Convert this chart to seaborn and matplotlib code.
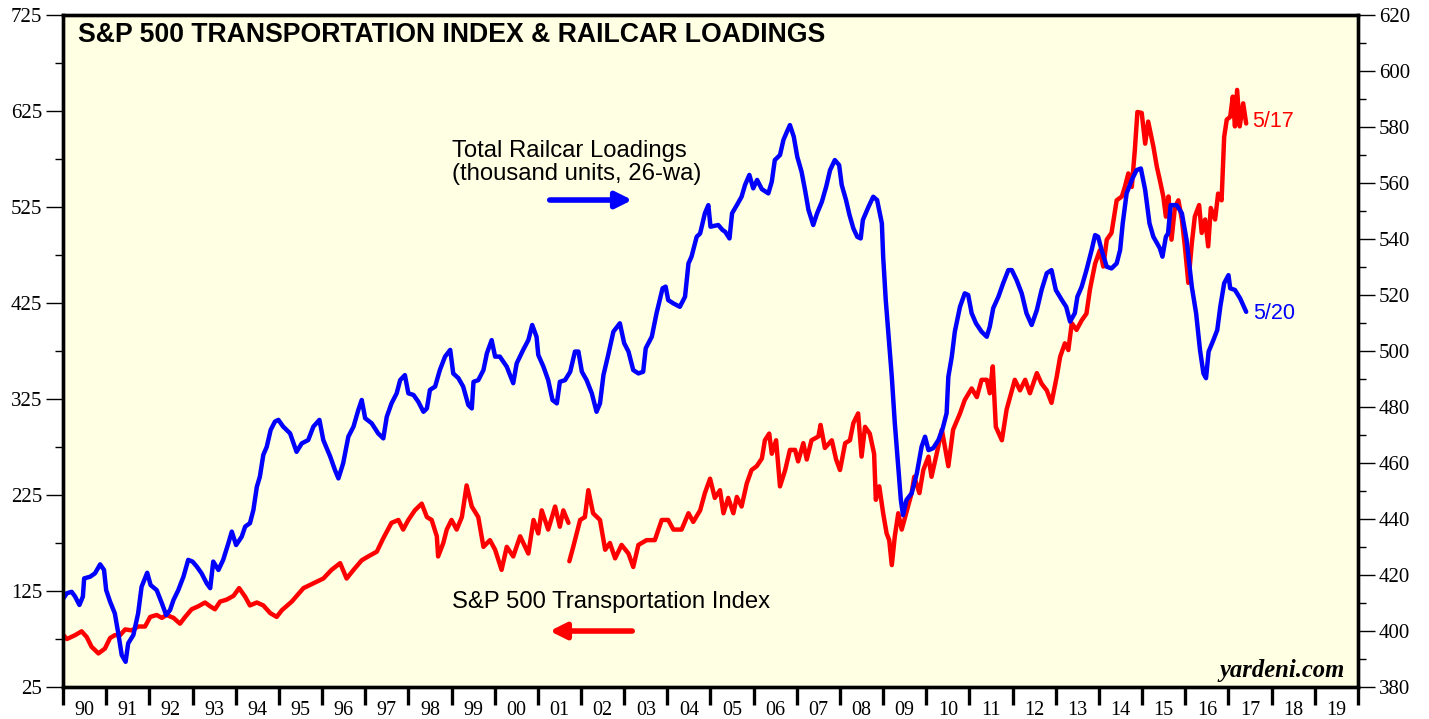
import matplotlib
matplotlib.use("Agg")
import numpy as np
import pandas as pd
import matplotlib.pyplot as plt
import seaborn as sns

# S&P 500 Transportation Index (left axis), two pieces (break in 2001)
trans_year_a = [1990.01, 1990.09, 1990.28, 1990.43, 1990.55, 1990.66, 1990.82, 1990.97, 1991.09, 1991.20,
                1991.32, 1991.44, 1991.59, 1991.74, 1991.90, 1992.02, 1992.17, 1992.29, 1992.40, 1992.56,
                1992.71, 1992.83, 1992.98, 1993.13, 1993.29, 1993.41, 1993.52, 1993.64, 1993.79, 1993.95,
                1994.08, 1994.22, 1994.33, 1994.49, 1994.64, 1994.80, 1994.95, 1995.07, 1995.30, 1995.57,
                1995.80, 1996.03, 1996.22, 1996.42, 1996.57, 1996.73, 1996.92, 1997.07, 1997.27, 1997.42,
                1997.61, 1997.77, 1997.88, 1998.00, 1998.15, 1998.31, 1998.43, 1998.54, 1998.66, 1998.69,
                1998.81, 1998.89, 1999.00, 1999.12, 1999.24, 1999.35, 1999.47, 1999.62, 1999.74, 1999.89,
                2000.01, 2000.16, 2000.28, 2000.43, 2000.59, 2000.78, 2000.90, 2001.01, 2001.09, 2001.24,
                2001.40, 2001.51, 2001.59, 2001.71]
trans_val_a = [79, 75, 79, 83, 77, 67, 60, 65, 76, 79,
               79, 85, 84, 88, 88, 98, 100, 97, 100, 97,
               91, 98, 106, 109, 113, 109, 106, 114, 116, 120,
               128, 119, 110, 113, 110, 102, 98, 105, 114, 128,
               133, 138, 147, 154, 138, 147, 157, 161, 166, 180,
               196, 199, 189, 199, 209, 216, 202, 199, 182, 161,
               175, 189, 199, 189, 202, 235, 213, 202, 171, 178,
               168, 147, 171, 161, 182, 164, 199, 185, 209, 189,
               213, 192, 209, 196]

trans_year_b = [2001.73, 2001.82, 2001.98, 2002.09, 2002.17, 2002.28, 2002.44, 2002.56, 2002.67, 2002.79,
                2002.94, 2003.10, 2003.21, 2003.33, 2003.52, 2003.71, 2003.87, 2004.02, 2004.14, 2004.33,
                2004.49, 2004.60, 2004.76, 2004.87, 2004.99, 2005.10, 2005.22, 2005.30, 2005.41, 2005.53,
                2005.61, 2005.72, 2005.84, 2005.95, 2006.07, 2006.19, 2006.26, 2006.36, 2006.42, 2006.52,
                2006.61, 2006.73, 2006.84, 2006.96, 2007.03, 2007.15, 2007.23, 2007.34, 2007.50, 2007.55,
                2007.65, 2007.81, 2007.91, 2008.00, 2008.12, 2008.23, 2008.31, 2008.42, 2008.50, 2008.58,
                2008.69, 2008.79, 2008.83, 2008.91, 2009.00, 2009.08, 2009.14, 2009.20, 2009.27, 2009.35,
                2009.43, 2009.55, 2009.66, 2009.72, 2009.84, 2009.93, 2010.05, 2010.12, 2010.24, 2010.36,
                2010.51, 2010.62, 2010.78, 2010.89, 2011.05, 2011.17, 2011.28, 2011.40, 2011.47, 2011.54,
                2011.61, 2011.75, 2011.86, 2011.94, 2012.05, 2012.17, 2012.29, 2012.40, 2012.56, 2012.67,
                2012.79, 2012.90, 2013.02, 2013.10, 2013.21, 2013.29, 2013.37, 2013.48, 2013.60, 2013.71,
                2013.79, 2013.91, 2014.02, 2014.10, 2014.18, 2014.29, 2014.41, 2014.53, 2014.60, 2014.68,
                2014.76, 2014.83, 2014.89, 2014.99, 2015.07, 2015.14, 2015.26, 2015.34, 2015.41, 2015.49,
                2015.55, 2015.61, 2015.68, 2015.76, 2015.84, 2015.92, 2015.99, 2016.07, 2016.15, 2016.22,
                2016.32, 2016.38, 2016.46, 2016.53, 2016.59, 2016.69, 2016.76, 2016.84, 2016.90, 2016.96,
                2017.04, 2017.10, 2017.15, 2017.20, 2017.26, 2017.34, 2017.41]
trans_val_b = [156, 171, 199, 202, 230, 206, 199, 168, 175, 159,
               173, 164, 150, 173, 178, 178, 199, 199, 189, 189,
               206, 197, 209, 227, 242, 222, 230, 206, 222, 206,
               223, 213, 237, 251, 255, 263, 282, 289, 268, 282,
               234, 251, 272, 272, 260, 279, 262, 282, 286, 298,
               274, 282, 262, 251, 279, 282, 300, 310, 265, 296,
               289, 268, 220, 234, 206, 185, 178, 152, 182, 206,
               189, 209, 227, 244, 227, 251, 265, 244, 268, 293,
               255, 293, 310, 324, 336, 327, 345, 345, 331, 359,
               296, 282, 314, 327, 345, 334, 345, 331, 352, 341,
               334, 321, 348, 369, 383, 376, 404, 397, 407, 414,
               439, 466, 480, 463, 491, 498, 532, 536, 546, 560,
               546, 584, 624, 623, 591, 614, 588, 567, 553, 536,
               515, 536, 491, 525, 532, 512, 484, 446, 487, 515,
               527, 498, 512, 484, 524, 512, 539, 532, 598, 616,
               619, 640, 609, 647, 609, 633, 612]

# Total railcar loadings, thousand units, 26-week average (right axis)
rail_year = [1990.01, 1990.09, 1990.20, 1990.28, 1990.38, 1990.46, 1990.49, 1990.63, 1990.74, 1990.86,
             1990.95, 1991.00, 1991.09, 1991.20, 1991.28, 1991.36, 1991.45, 1991.51, 1991.63, 1991.74,
             1991.82, 1991.95, 1992.03, 1992.17, 1992.29, 1992.39, 1992.48, 1992.56, 1992.67, 1992.79,
             1992.90, 1993.00, 1993.10, 1993.21, 1993.33, 1993.41, 1993.48, 1993.60, 1993.71, 1993.83,
             1993.91, 1994.01, 1994.14, 1994.22, 1994.33, 1994.41, 1994.49, 1994.56, 1994.64, 1994.72,
             1994.81, 1994.91, 1994.99, 1995.10, 1995.26, 1995.41, 1995.53, 1995.68, 1995.80, 1995.94,
             1996.03, 1996.19, 1996.30, 1996.38, 1996.49, 1996.61, 1996.73, 1996.84, 1996.92, 1997.00,
             1997.15, 1997.30, 1997.42, 1997.50, 1997.61, 1997.73, 1997.81, 1997.92, 1998.00, 1998.12,
             1998.23, 1998.35, 1998.43, 1998.50, 1998.62, 1998.73, 1998.85, 1998.97, 1999.04, 1999.16,
             1999.27, 1999.39, 1999.47, 1999.51, 1999.62, 1999.74, 1999.82, 1999.93, 2000.01, 2000.12,
             2000.28, 2000.43, 2000.51, 2000.66, 2000.78, 2000.87, 2000.97, 2001.01, 2001.13, 2001.24,
             2001.34, 2001.44, 2001.51, 2001.63, 2001.75, 2001.86, 2001.94, 2002.02, 2002.13, 2002.25,
             2002.36, 2002.44, 2002.52, 2002.63, 2002.75, 2002.90, 2003.00, 2003.10, 2003.21, 2003.33,
             2003.44, 2003.50, 2003.64, 2003.75, 2003.89, 2003.96, 2004.02, 2004.14, 2004.29, 2004.41,
             2004.49, 2004.56, 2004.68, 2004.76, 2004.87, 2004.95, 2005.00, 2005.18, 2005.28, 2005.34,
             2005.44, 2005.50, 2005.61, 2005.72, 2005.80, 2005.90, 2005.99, 2006.08, 2006.19, 2006.34,
             2006.42, 2006.49, 2006.61, 2006.69, 2006.77, 2006.84, 2006.93, 2007.01, 2007.11, 2007.19,
             2007.27, 2007.38, 2007.47, 2007.58, 2007.68, 2007.77, 2007.88, 2007.98, 2008.04, 2008.14,
             2008.22, 2008.31, 2008.40, 2008.48, 2008.53, 2008.66, 2008.77, 2008.86, 2008.97, 2009.00,
             2009.06, 2009.12, 2009.20, 2009.27, 2009.35, 2009.41, 2009.46, 2009.54, 2009.66, 2009.78,
             2009.89, 2009.97, 2010.05, 2010.16, 2010.28, 2010.38, 2010.47, 2010.51, 2010.59, 2010.66,
             2010.78, 2010.89, 2010.97, 2011.05, 2011.15, 2011.28, 2011.40, 2011.47, 2011.55, 2011.67,
             2011.78, 2011.90, 2011.98, 2012.09, 2012.21, 2012.32, 2012.44, 2012.56, 2012.67, 2012.79,
             2012.90, 2013.00, 2013.14, 2013.24, 2013.33, 2013.44, 2013.50, 2013.60, 2013.71, 2013.83,
             2013.91, 2013.98, 2014.06, 2014.18, 2014.29, 2014.41, 2014.49, 2014.55, 2014.64, 2014.76,
             2014.87, 2014.97, 2015.07, 2015.17, 2015.26, 2015.41, 2015.47, 2015.55, 2015.60, 2015.66,
             2015.80, 2015.92, 2016.03, 2016.15, 2016.25, 2016.34, 2016.42, 2016.48, 2016.54, 2016.65,
             2016.74, 2016.81, 2016.90, 2017.00, 2017.04, 2017.15, 2017.27, 2017.41]
rail_val = [411.7, 413.5, 414.0, 412.3, 409.3, 412.3, 418.8, 419.4, 420.6, 423.8,
            421.8, 414.6, 410.5, 406.3, 399.2, 391.4, 389.0, 395.6, 398.6, 406.3,
            415.8, 420.8, 416.4, 414.6, 409.9, 405.7, 407.5, 411.1, 414.6, 419.4,
            425.4, 424.8, 423.0, 420.6, 417.0, 415.3, 424.8, 421.8, 425.4, 431.3,
            435.5, 430.7, 433.7, 437.3, 438.5, 443.2, 451.5, 455.1, 462.9, 465.8,
            471.8, 474.8, 475.4, 473.0, 470.6, 464.0, 467.0, 468.2, 473.0, 475.4,
            468.2, 462.3, 457.5, 454.5, 459.9, 469.4, 473.0, 478.9, 482.5, 476.0,
            474.2, 470.6, 468.8, 476.5, 481.3, 484.9, 489.6, 491.4, 484.9, 484.3,
            481.9, 478.3, 479.5, 486.1, 487.3, 493.2, 498.0, 500.4, 492.0, 490.3,
            487.3, 480.7, 479.5, 489.0, 489.6, 493.2, 499.2, 503.9, 498.0, 498.0,
            494.4, 488.5, 495.6, 500.4, 503.9, 509.3, 505.1, 498.6, 494.4, 489.6,
            482.5, 481.3, 489.0, 489.6, 492.6, 499.8, 499.8, 492.6, 489.6, 484.9,
            478.3, 481.3, 491.4, 498.6, 506.9, 509.9, 502.8, 499.8, 493.2, 492.0,
            492.6, 501.0, 505.1, 513.5, 522.4, 523.0, 518.2, 517.0, 515.8, 519.4,
            531.3, 533.7, 540.8, 542.0, 549.2, 552.1, 544.4, 545.0, 543.2, 542.6,
            540.2, 549.2, 552.1, 555.1, 559.3, 562.9, 558.1, 561.1, 557.8, 556.3,
            560.5, 568.2, 570.0, 575.4, 578.3, 580.7, 576.5, 569.4, 564.0, 557.5,
            550.4, 545.0, 549.2, 553.3, 558.7, 564.6, 568.2, 566.4, 559.3, 553.9,
            548.6, 543.8, 540.8, 540.2, 546.8, 551.5, 555.1, 553.9, 545.6, 533.7,
            518.2, 506.3, 490.8, 474.2, 458.7, 446.8, 441.4, 446.8, 449.2, 456.3,
            465.8, 469.4, 464.6, 465.3, 468.2, 472.4, 477.8, 490.8, 498.0, 506.9,
            515.8, 520.6, 520.0, 513.5, 509.9, 506.9, 505.1, 508.7, 515.3, 519.4,
            524.2, 528.9, 528.9, 525.4, 520.6, 513.5, 509.3, 514.6, 521.8, 527.8,
            528.9, 521.8, 518.2, 515.8, 510.5, 513.5, 519.4, 523.0, 528.9, 536.1,
            541.4, 540.8, 536.1, 530.1, 529.5, 531.3, 536.1, 545.6, 556.3, 561.1,
            564.6, 565.2, 557.5, 545.6, 540.8, 536.7, 533.7, 540.8, 542.0, 552.1,
            552.1, 549.2, 539.6, 523.0, 513.5, 500.4, 492.0, 490.3, 499.8, 503.9,
            507.5, 515.8, 524.2, 527.1, 522.4, 521.8, 518.8, 514.0]

year_labels = ["90", "91", "92", "93", "94", "95", "96", "97", "98", "99",
               "00", "01", "02", "03", "04", "05", "06", "07", "08", "09",
               "10", "11", "12", "13", "14", "15", "16", "17", "18", "19"]

trans = pd.DataFrame({"year": trans_year_a + trans_year_b,
                      "value": trans_val_a + trans_val_b,
                      "seg": [0] * len(trans_year_a) + [1] * len(trans_year_b)})
rail = pd.DataFrame({"year": rail_year, "value": rail_val})

sns.set_style("ticks")
plt.rcParams['font.family'] = ['Liberation Serif', 'DejaVu Serif']
plt.rcParams['text.color'] = 'black'
plt.rcParams['xtick.color'] = 'black'
plt.rcParams['ytick.color'] = 'black'
plt.rcParams['xtick.labelcolor'] = 'black'
plt.rcParams['ytick.labelcolor'] = 'black'

fig = plt.figure(figsize=(14.29, 7.19), dpi=100)
ax = fig.add_axes([0.0441, 0.0445, 0.9062, 0.9346])
ax.set_facecolor("#FFFFE3")

sns.lineplot(data=trans, x="year", y="value", units="seg", estimator=None,
             color="#FF0000", lw=3.2, ax=ax)
ax2 = ax.twinx()
sns.lineplot(data=rail, x="year", y="value", color="#0000FF", lw=3.2, ax=ax2)

ax.set_xlim(1990, 2020)
ax.set_ylim(25, 725)
ax2.set_ylim(380, 620)

ax.set_yticks(np.arange(25, 726, 100))
ax.set_yticks(np.arange(75, 725, 100), minor=True)
ax2.set_yticks(np.arange(380, 621, 20))
ax2.set_yticks(np.arange(390, 620, 20), minor=True)

ax.set_xticks(np.arange(1990, 2021))
ax.set_xticklabels([])
ax.set_xticks(np.arange(1990.5, 2020, 1), minor=True)
ax.set_xticklabels(year_labels, minor=True)

ax.tick_params(axis="x", which="major", length=13, width=2.4, direction="out", color="black")
ax.tick_params(axis="x", which="minor", length=0, pad=10, labelsize=14.5)
ax.tick_params(axis="y", which="major", length=12, width=1, labelsize=15, pad=3)
ax.tick_params(axis="y", which="minor", length=6, width=1)
ax2.tick_params(axis="y", which="major", length=12, width=1, labelsize=15, pad=3)
ax2.tick_params(axis="y", which="minor", length=6, width=1)

for a in (ax, ax2):
    a.set_xlabel("")
    a.set_ylabel("")
    for s in a.spines.values():
        s.set_linewidth(2.4)
        s.set_color("black")

sans = ["Liberation Sans", "DejaVu Sans"]
ax.text(0.0116, 0.970, "S&P 500 TRANSPORTATION INDEX & RAILCAR LOADINGS",
        transform=ax.transAxes, fontsize=19.2, fontweight="bold", family=sans,
        ha="left", va="center", color="black")
ax.text(0.300, 0.781, "Total Railcar Loadings\n(thousand units, 26-wa)",
        transform=ax.transAxes, fontsize=17.2, family=sans, ha="left", va="center",
        linespacing=1.08, color="black")
ax.annotate("", xy=(0.4417, 0.7247), xytext=(0.3737, 0.7247), xycoords="axes fraction",
            arrowprops=dict(arrowstyle="-|>", color="#0000FF", lw=4, mutation_scale=24))
ax.text(0.300, 0.1265, "S&P 500 Transportation Index",
        transform=ax.transAxes, fontsize=17.2, family=sans, ha="left", va="center",
        color="black")
ax.annotate("", xy=(0.3737, 0.0833), xytext=(0.4417, 0.0833), xycoords="axes fraction",
            arrowprops=dict(arrowstyle="-|>", color="#FF0000", lw=4, mutation_scale=24))
ax.text(0.918, 0.842, "5/17", transform=ax.transAxes, fontsize=15.5, family=sans,
        color="#FF0000", ha="left", va="center")
ax.text(0.919, 0.5565, "5/20", transform=ax.transAxes, fontsize=15.5, family=sans,
        color="#0000FF", ha="left", va="center")
ax.text(0.990, 0.024, "yardeni.com", transform=ax.transAxes, fontsize=17.7,
        fontweight="bold", style="italic", ha="right", va="center", color="black")

fig.savefig("out.png", dpi=100)
